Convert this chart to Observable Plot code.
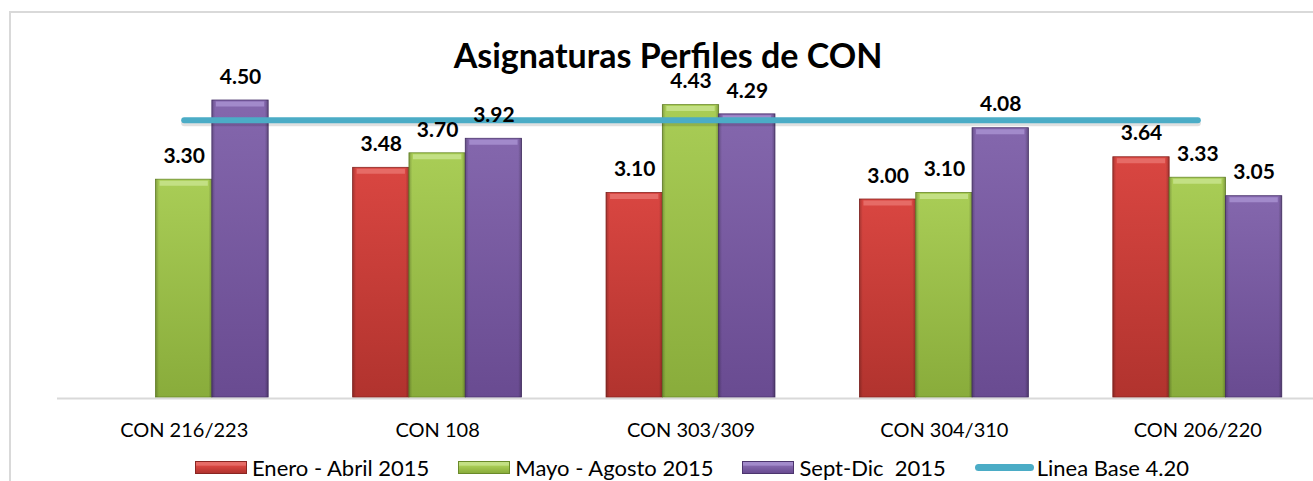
<!DOCTYPE html>
<html>
<head>
<meta charset="utf-8">
<script src="https://cdn.jsdelivr.net/npm/d3@7"></script>
<script src="https://cdn.jsdelivr.net/npm/@observablehq/plot@0.6"></script>
<style>
html,body{margin:0;padding:0;background:#fff;overflow:hidden;}
#wrap{position:relative;width:1313px;height:481px;overflow:hidden;font-family:Lato,sans-serif;}
#border{position:absolute;left:9px;top:11px;width:1400px;height:600px;border:2px solid #d9d9d9;box-sizing:border-box;pointer-events:none;z-index:3;}
#title{position:absolute;left:0;width:1336px;top:42px;line-height:26px;text-align:center;font-weight:bold;font-size:34px;color:#000;z-index:2;white-space:pre;}
#chart{position:absolute;left:0;top:0;}
#legend{position:absolute;left:0;top:454px;width:1384px;height:26px;display:flex;justify-content:center;align-items:center;gap:29px;font-size:22px;color:#000;white-space:pre;z-index:2;}
.item{display:flex;align-items:center;gap:5px;}
.sw{width:52px;height:13px;box-sizing:border-box;}
.ln{width:59px;height:7px;border-radius:4px;background:#4bacc6;}
</style>
</head>
<body>
<div id="wrap">
  <div id="chart"></div>
  <div id="title"></div>
  <div id="legend"></div>
  <div id="border"></div>
</div>
<script>
// ---- data ----
const chartTitle = "Asignaturas Perfiles de CON";
const categories = ["CON 216/223", "CON 108", "CON 303/309", "CON 304/310", "CON 206/220"];
const seriesNames = ["Enero - Abril 2015", "Mayo - Agosto 2015", "Sept-Dic  2015"];
const eneroAbril = [null, 3.48, 3.10, 3.00, 3.64];
const mayoAgosto = [3.30, 3.70, 4.43, 3.10, 3.33];
const septDic   = [4.50, 3.92, 4.29, 4.08, 3.05];
const lineaBaseName = "Linea Base 4.20";
const lineaBase = 4.20;

// ---- styles ----
const palette = [
  {top: "#d94641", bottom: "#b1332e", cap: "#e66b66", edge: "#8a2622"},
  {top: "#a9cd56", bottom: "#89ac3b", cap: "#c3e084", edge: "#6a8a2a"},
  {top: "#8467ad", bottom: "#694b91", cap: "#a28acb", edge: "#4c356e"}
];
const lineColor = "#4bacc6";

// ---- table ----
const seriesValues = [eneroAbril, mayoAgosto, septDic];
const data = [];
seriesValues.forEach((vals, k) => vals.forEach((v, i) => {
  if (v != null) data.push({cat: categories[i], series: seriesNames[k], k, value: v});
}));
const baseData = categories.map(c => ({cat: c, value: lineaBase}));

const xScaleOpts = {type: "band", domain: categories, range: [57, 1324], paddingInner: 1/3, paddingOuter: 1/6, round: false};
const xs = Plot.scale({x: xScaleOpts});
const slot = xs.bandwidth / seriesNames.length;

const marks = [Plot.ruleY([0], {stroke: "#d9d9d9", strokeWidth: 2, dy: 1})];
palette.forEach((p, k) => {
  const d = data.filter(r => r.k === k);
  const inset = {insetLeft: k * slot, insetRight: (seriesNames.length - 1 - k) * slot};
  marks.push(Plot.barY(d, {x: "cat", y: "value", fill: `url(#g${k})`, stroke: p.edge, strokeWidth: 0.8, ...inset}));
  marks.push(Plot.barY(d, {x: "cat", y: "value", fill: "url(#edgeShade)", ...inset}));
  marks.push(Plot.tickY(d, {x: "cat", y: "value", stroke: p.cap, strokeWidth: 5, dy: 3.5,
    insetLeft: inset.insetLeft + 4, insetRight: inset.insetRight + 4}));
});
marks.push(Plot.line(baseData, {x: "cat", y: "value", stroke: "#000", strokeOpacity: 0.12, strokeWidth: 6, strokeLinecap: "round", dy: 3}));
marks.push(Plot.line(baseData, {x: "cat", y: "value", stroke: lineColor, strokeWidth: 6, strokeLinecap: "round"}));
palette.forEach((p, k) => {
  const d = data.filter(r => r.k === k);
  marks.push(Plot.text(d, {x: "cat", y: "value", text: r => r.value.toFixed(2), dx: (k - 1) * slot, dy: -23.5,
    fontWeight: "bold", fontSize: 21, fill: "#000"}));
});

const svg = Plot.plot({
  width: 1313,
  height: 445,
  marginTop: 1,
  marginBottom: 48,
  marginLeft: 57,
  marginRight: 0,
  x: {...xScaleOpts, label: null, tickSize: 0, tickPadding: 25},
  y: {domain: [0, 6], axis: null},
  style: {fontFamily: "Lato, sans-serif", fontSize: "20px", background: "transparent", color: "#000", overflow: "visible"},
  marks
});

// gradients
const defs = d3.select(svg).insert("defs", ":first-child");
palette.forEach((p, k) => {
  const g = defs.append("linearGradient").attr("id", `g${k}`).attr("x1", 0).attr("y1", 0).attr("x2", 0).attr("y2", 1);
  g.append("stop").attr("offset", 0).attr("stop-color", p.top);
  g.append("stop").attr("offset", 1).attr("stop-color", p.bottom);
});
const e = defs.append("linearGradient").attr("id", "edgeShade").attr("x1", 0).attr("y1", 0).attr("x2", 1).attr("y2", 0);
[[0, 0.22], [0.06, 0], [0.94, 0], [1, 0.25]].forEach(([o, a]) =>
  e.append("stop").attr("offset", o).attr("stop-color", "#000").attr("stop-opacity", a));

document.getElementById("chart").appendChild(svg);
document.getElementById("title").textContent = chartTitle;

// legend
const legend = d3.select("#legend");
seriesNames.forEach((name, k) => {
  const p = palette[k];
  const it = legend.append("div").attr("class", "item");
  it.append("div").attr("class", "sw")
    .style("background", `linear-gradient(to bottom, ${p.cap} 0%, ${p.cap} 30%, ${p.top} 35%, ${p.bottom} 100%)`)
    .style("border", `1px solid ${p.edge}`);
  it.append("span").text(name);
});
const li = legend.append("div").attr("class", "item").style("gap", "3px");
li.append("div").attr("class", "ln");
li.append("span").text(lineaBaseName);
</script>
</body>
</html>
